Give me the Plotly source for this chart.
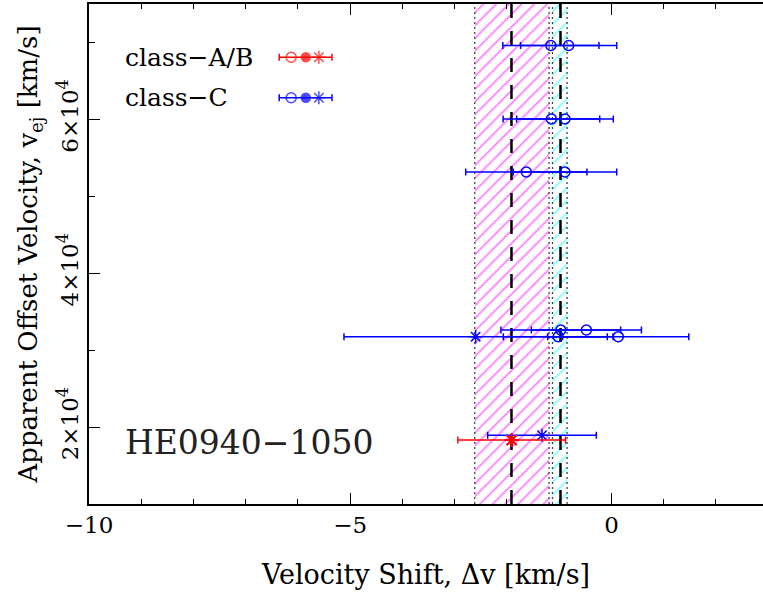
import plotly.graph_objects as go

# ---------------- data ----------------
# class-C, open circles (x = velocity shift, y = offset velocity, symmetric x error)
C_OPEN_X = [-1.16, -0.82, -1.15, -0.89, -1.63, -0.89, -0.97, -0.48, -1.02, 0.13]
C_OPEN_Y = [69600, 69600, 60050, 60050, 53160, 53160, 32620, 32620, 31750, 31750]
C_OPEN_ERR = [0.92, 0.92, 0.925, 0.925, 1.16, 0.99, 1.146, 1.053, 1.05, 1.35]

# class-C, asterisks
C_STAR_X = [-2.60, -1.33]
C_STAR_Y = [31750, 18940]
C_STAR_ERR = [2.52, 1.04]

# class-A/B, asterisk (with filled circle)
AB_STAR_X = [-1.91]
AB_STAR_Y = [18310]
AB_STAR_ERR = [1.03]

# weighted means and their uncertainty bands
AB_BAND = [-2.617, -1.194]
AB_MEAN = -1.914
C_BAND = [-1.129, -0.850]
C_MEAN = -0.976

X_RANGE = [-10, 2.9]
Y_RANGE = [10000, 75000]
X_TICKS = [-10, -5, 0]
X_TICK_TEXT = ["\u221210", "\u22125", "0"]
Y_TICKS = [20000, 40000, 60000]
Y_TICK_TEXT = ["2\u00d710<sup>4</sup>", "4\u00d710<sup>4</sup>", "6\u00d710<sup>4</sup>"]

LEGEND_LABELS = ["class\u2212A/B", "class\u2212C"]
LEGEND_COLORS = ["#ff0000", "#0000ff"]
OBJECT_NAME = "HE0940\u22121050"

# legend layout (positions in data units)
LEG_TEXT_X = -9.34
LEG_ROW_Y = [68080, 62815]
LEG_SYM_X = [-6.13, -5.85, -5.60]
LEG_BAR_CENTER = -5.855
LEG_BAR_HALF = 0.505
NAME_X = -9.355
NAME_Y = 18000

FONT = "DejaVu Serif"
BLUE = "#0000ff"
RED = "#ff0000"

fig = go.Figure()


def band(rng, color):
    fig.add_trace(go.Scatter(
        x=[rng[0], rng[1], rng[1], rng[0], rng[0]],
        y=[Y_RANGE[0], Y_RANGE[0], Y_RANGE[1], Y_RANGE[1], Y_RANGE[0]],
        mode="lines", fill="toself", line=dict(width=0, color="rgba(0,0,0,0)"),
        fillcolor="rgba(0,0,0,0)",
        fillpattern=dict(shape="/", fgcolor=color, bgcolor="rgba(0,0,0,0)",
                         size=9, solidity=0.2, fillmode="overlay"),
        hoverinfo="skip", showlegend=False))


def vline(xv, dash, width, color):
    fig.add_trace(go.Scatter(
        x=[xv, xv], y=Y_RANGE, mode="lines",
        line=dict(color=color, width=width, dash=dash),
        hoverinfo="skip", showlegend=False))


band(AB_BAND, "#ff00ff")
band(C_BAND, "#00ffff")
for xv in AB_BAND + C_BAND:
    vline(xv, "2px,3px", 1.3, "#444444")
vline(AB_MEAN, "14px,13px", 2.5, "black")
vline(C_MEAN, "14px,13px", 2.5, "black")


def errc(arr, color):
    return dict(type="data", array=arr, symmetric=True, thickness=1.5, width=3.5, color=color)


# class-C points
fig.add_trace(go.Scatter(
    x=C_OPEN_X, y=C_OPEN_Y, mode="markers",
    marker=dict(symbol="circle-open", size=10, color=BLUE, line=dict(width=1.5, color=BLUE)),
    error_x=errc(C_OPEN_ERR, BLUE), showlegend=False))
fig.add_trace(go.Scatter(
    x=C_STAR_X, y=C_STAR_Y, mode="markers",
    marker=dict(symbol="asterisk-open", size=11, color=BLUE, line=dict(width=1.5, color=BLUE)),
    error_x=errc(C_STAR_ERR, BLUE), showlegend=False))
# class-A/B points
fig.add_trace(go.Scatter(
    x=AB_STAR_X, y=AB_STAR_Y, mode="markers",
    marker=dict(symbol="circle", size=6, color=RED),
    error_x=errc(AB_STAR_ERR, RED), showlegend=False))
fig.add_trace(go.Scatter(
    x=AB_STAR_X, y=AB_STAR_Y, mode="markers",
    marker=dict(symbol="asterisk-open", size=12, color=RED, line=dict(width=2, color=RED)),
    showlegend=False))

# custom legend
for label, color, yy in zip(LEGEND_LABELS, LEGEND_COLORS, LEG_ROW_Y):
    fig.add_trace(go.Scatter(
        x=[LEG_BAR_CENTER], y=[yy], mode="markers", marker=dict(size=1, color=color, opacity=0),
        error_x=errc([LEG_BAR_HALF], color), showlegend=False, hoverinfo="skip"))
    fig.add_trace(go.Scatter(
        x=LEG_SYM_X, y=[yy] * 3, mode="markers",
        marker=dict(symbol=["circle-open", "circle", "asterisk-open"], size=[10, 9, 11],
                    color=color, line=dict(width=1.5, color=color)),
        showlegend=False, hoverinfo="skip"))
    fig.add_annotation(x=LEG_TEXT_X, y=yy, xref="x", yref="y", text=label, showarrow=False,
                       xanchor="left", yanchor="middle", font=dict(family=FONT, size=25, color="black"))

fig.add_annotation(x=NAME_X, y=NAME_Y, xref="x", yref="y", text=OBJECT_NAME, showarrow=False,
                   xanchor="left", yanchor="middle", font=dict(family=FONT, size=33, color="#222222"))

fig.update_layout(
    width=763, height=604,
    margin=dict(l=89, r=0, t=4, b=100),
    paper_bgcolor="white", plot_bgcolor="white",
    font=dict(family=FONT, color="black"),
    showlegend=False,
    xaxis=dict(
        range=X_RANGE, tickmode="array", tickvals=X_TICKS, ticktext=X_TICK_TEXT,
        ticks="inside", ticklen=11, tickwidth=1, tickcolor="black",
        minor=dict(dtick=1, tick0=0, ticks="inside", ticklen=5.5, tickwidth=1, tickcolor="black"),
        showline=True, linecolor="black", linewidth=1.5, mirror="ticks",
        showgrid=False, zeroline=False,
        tickfont=dict(family=FONT, size=23, color="black"),
        title=dict(text="Velocity Shift, \u0394v [km/s]", font=dict(family=FONT, size=27, color="black"),
                   standoff=28),
    ),
    yaxis=dict(
        range=Y_RANGE, tickmode="array", tickvals=Y_TICKS, ticktext=Y_TICK_TEXT,
        ticks="inside", ticklen=11, tickwidth=1, tickcolor="black", tickangle=-90,
        minor=dict(dtick=10000, tick0=0, ticks="inside", ticklen=6, tickwidth=1, tickcolor="black"),
        showline=True, linecolor="black", linewidth=1.5, mirror=False,
        showgrid=False, zeroline=False,
        tickfont=dict(family=FONT, size=23, color="black"),
        title=dict(text="Apparent Offset Velocity, v<sub>ej</sub> [km/s]",
                   font=dict(family=FONT, size=26, color="black"), standoff=8),
    ),
)

fig.write_html("out.html")
